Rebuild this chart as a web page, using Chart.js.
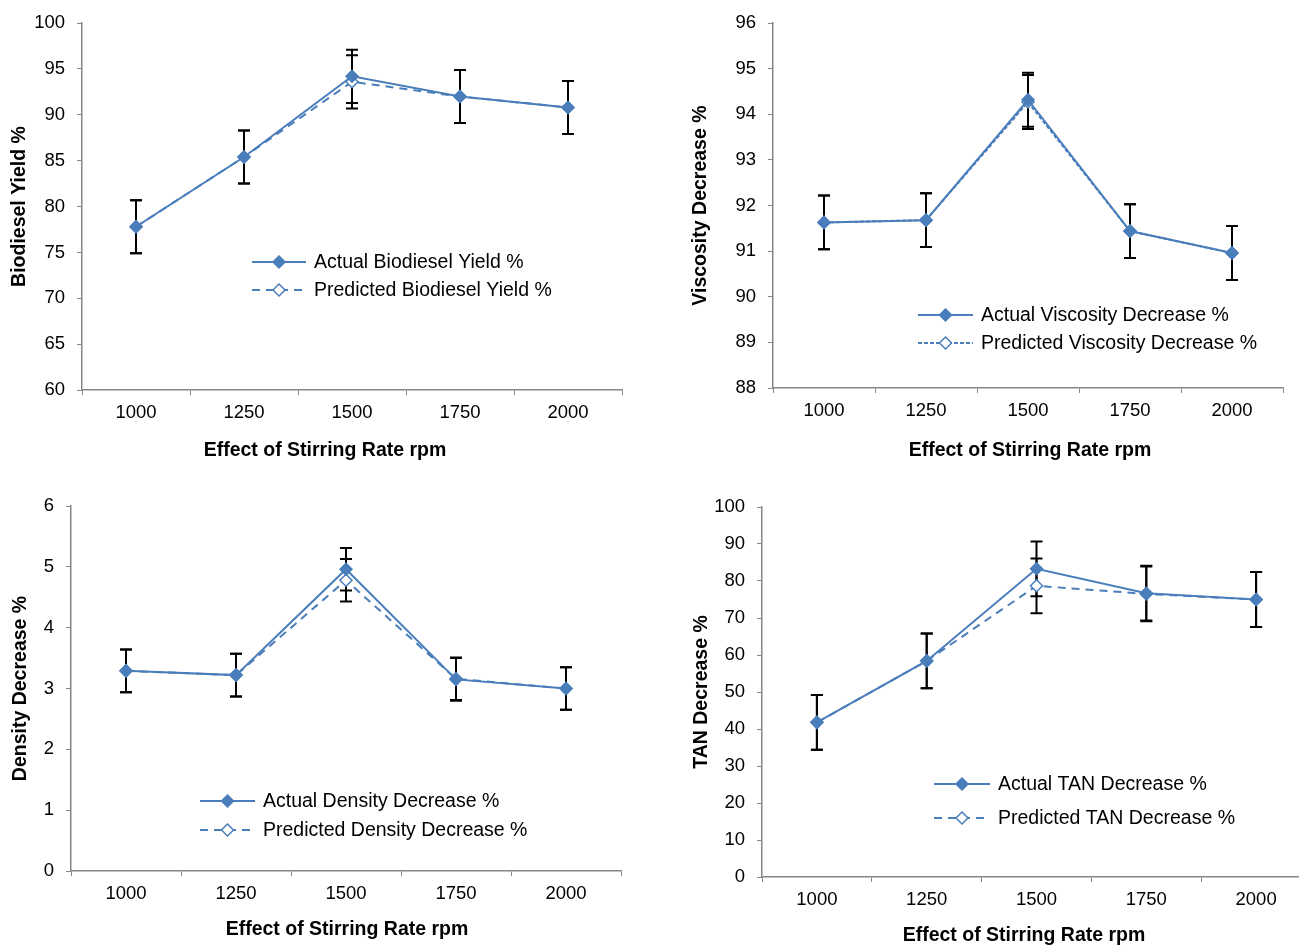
<!DOCTYPE html>
<html>
<head>
<meta charset="utf-8">
<script src="https://cdn.jsdelivr.net/npm/chart.js@4.4.1/dist/chart.umd.min.js"></script>
<style>
  html, body { margin: 0; padding: 0; background: #fff; }
  body { width: 1299px; height: 946px; position: relative; overflow: hidden; }
  canvas { position: absolute; }
</style>
</head>
<body>
<canvas id="yieldChart" width="650" height="470" style="left:0;top:0"></canvas>
<canvas id="viscChart" width="619" height="470" style="left:680px;top:0"></canvas>
<canvas id="densChart" width="650" height="466" style="left:0;top:480px"></canvas>
<canvas id="tanChart" width="640" height="466" style="left:680px;top:480px"></canvas>
<script>
const rpm = ['1000', '1250', '1500', '1750', '2000'];

const yieldActual = [77.8, 85.4, 94.2, 92.0, 90.8];
const yieldPred = [77.8, 85.4, 93.6, 92.0, 90.8];
const yieldErr = 2.9;

const viscActual = [91.63, 91.68, 94.32, 91.44, 90.96];
const viscPred = [91.63, 91.68, 94.27, 91.44, 90.96];
const viscErr = 0.59;

const densActual = [3.29, 3.22, 4.96, 3.15, 3.0];
const densPred = [3.29, 3.22, 4.78, 3.16, 3.0];
const densErr = 0.35;

const tanActual = [41.8, 58.4, 83.3, 76.7, 75.0];
const tanPred = [41.8, 58.4, 78.7, 76.5, 75.0];
const tanErr = 7.4;

const BLUE = '#4a7ebb';
const AXIS = '#868686';
const FONT = "'Liberation Sans', Arial, sans-serif";

function diamond(ctx, x, y, r, fill, stroke) {
  ctx.beginPath();
  ctx.moveTo(x, y - r);
  ctx.lineTo(x + r, y);
  ctx.lineTo(x, y + r);
  ctx.lineTo(x - r, y);
  ctx.closePath();
  ctx.fillStyle = fill;
  ctx.fill();
  ctx.lineWidth = 1.5;
  ctx.strokeStyle = stroke;
  ctx.stroke();
}

// error bars behind the markers, legend and x title on top
const extras = {
  id: 'extras',
  beforeDatasetsDraw(chart, args, opts) {
    const ctx = chart.ctx, ys = chart.scales.y;
    ctx.save();
    ctx.strokeStyle = '#000';
    ctx.lineWidth = 2;
    chart.data.datasets.forEach((ds, di) => {
      const meta = chart.getDatasetMeta(di);
      ds.data.forEach((v, i) => {
        const x = meta.data[i].x;
        const top = ys.getPixelForValue(v + opts.err);
        const bot = ys.getPixelForValue(v - opts.err);
        ctx.beginPath();
        ctx.moveTo(x, top); ctx.lineTo(x, bot);
        ctx.moveTo(x - 6, top); ctx.lineTo(x + 6, top);
        ctx.moveTo(x - 6, bot); ctx.lineTo(x + 6, bot);
        ctx.stroke();
      });
    });
    ctx.restore();
  },
  afterDraw(chart, args, opts) {
    const ctx = chart.ctx;
    ctx.save();
    const lg = opts.legend;
    chart.data.datasets.forEach((ds, i) => {
      const y = lg.y + i * lg.gap;
      ctx.strokeStyle = BLUE;
      ctx.lineWidth = 2;
      ctx.setLineDash(ds.borderDash || []);
      ctx.beginPath();
      ctx.moveTo(lg.x, y);
      ctx.lineTo(lg.x + lg.len, y);
      ctx.stroke();
      ctx.setLineDash([]);
      diamond(ctx, lg.x + lg.len / 2, y, 6, ds.pointBackgroundColor, BLUE);
      ctx.fillStyle = '#000';
      ctx.font = '19.5px ' + FONT;
      ctx.textBaseline = 'middle';
      ctx.textAlign = 'left';
      ctx.fillText(ds.label, lg.x + lg.len + 8, y + 1);
    });
    const t = opts.xTitle;
    ctx.font = 'bold 19.5px ' + FONT;
    ctx.fillStyle = '#000';
    ctx.textAlign = 'center';
    ctx.textBaseline = 'middle';
    ctx.fillText(t.text, t.x, t.y);
    ctx.restore();
  }
};

function makePanel(id, p) {
  return new Chart(document.getElementById(id), {
    type: 'line',
    data: {
      labels: rpm,
      datasets: [{
        label: p.names[0],
        data: p.actual,
        borderColor: BLUE,
        borderWidth: 2,
        pointStyle: 'rectRot',
        pointRadius: 6,
        pointBackgroundColor: BLUE,
        pointBorderColor: BLUE,
        pointBorderWidth: 1.5,
        tension: 0
      }, {
        label: p.names[1],
        data: p.pred,
        borderColor: BLUE,
        borderWidth: 2,
        borderDash: p.dash,
        pointStyle: 'rectRot',
        pointRadius: 6,
        pointBackgroundColor: '#fff',
        pointBorderColor: BLUE,
        pointBorderWidth: 1.5,
        tension: 0
      }]
    },
    options: {
      responsive: false,
      animation: false,
      events: [],
      layout: { padding: p.pad },
      plugins: {
        legend: { display: false },
        tooltip: { enabled: false },
        extras: { err: p.err, legend: p.legend, xTitle: p.xTitle }
      },
      scales: {
        x: {
          offset: true,
          grid: { offset: true, drawOnChartArea: false, tickLength: 5, color: AXIS },
          border: { color: AXIS, width: 1.5 },
          ticks: { color: '#000', font: { family: FONT, size: 18.5 }, padding: 7, maxRotation: 0, autoSkip: false },
          afterFit: s => { s.height = p.xh; }
        },
        y: {
          min: p.min, max: p.max,
          grid: { drawOnChartArea: false, tickLength: 5, color: AXIS },
          border: { color: AXIS, width: 1.5 },
          ticks: { stepSize: p.step, color: '#000', font: { family: FONT, size: 18.5 }, padding: 12 },
          title: { display: true, text: p.yTitle, color: '#000', font: { family: FONT, size: 19.5, weight: 'bold' }, padding: { top: p.ytPad, bottom: 0 } },
          afterFit: s => { s.width = p.yw; }
        }
      }
    },
    plugins: [extras]
  });
}

makePanel('yieldChart', {
  actual: yieldActual, pred: yieldPred, err: yieldErr,
  names: ['Actual Biodiesel Yield %', 'Predicted Biodiesel Yield %'],
  dash: [8, 6], min: 60, max: 100, step: 5,
  yTitle: 'Biodiesel Yield %', ytPad: 8,
  pad: { left: 0, top: 22, right: 28, bottom: 0 }, yw: 82, xh: 80,
  legend: { x: 252, y: 262, gap: 28, len: 54 },
  xTitle: { text: 'Effect of Stirring Rate rpm', x: 325, y: 451 }
});

makePanel('viscChart', {
  actual: viscActual, pred: viscPred, err: viscErr,
  names: ['Actual Viscosity Decrease %', 'Predicted Viscosity Decrease %'],
  dash: [4, 2], min: 88, max: 96, step: 1,
  yTitle: 'Viscosity Decrease %', ytPad: 9,
  pad: { left: 0, top: 22, right: 16, bottom: 0 }, yw: 93, xh: 82,
  legend: { x: 238, y: 315, gap: 28, len: 55 },
  xTitle: { text: 'Effect of Stirring Rate rpm', x: 350, y: 451 }
});

makePanel('densChart', {
  actual: densActual, pred: densPred, err: densErr,
  names: ['Actual Density Decrease %', 'Predicted Density Decrease %'],
  dash: [8, 6], min: 0, max: 6, step: 1,
  yTitle: 'Density Decrease %', ytPad: 9,
  pad: { left: 0, top: 26, right: 29, bottom: 0 }, yw: 71, xh: 75,
  legend: { x: 200, y: 321, gap: 29, len: 55 },
  xTitle: { text: 'Effect of Stirring Rate rpm', x: 347, y: 450 }
});

makePanel('tanChart', {
  actual: tanActual, pred: tanPred, err: tanErr,
  names: ['Actual TAN Decrease %', 'Predicted TAN Decrease %'],
  dash: [8, 6], min: 0, max: 100, step: 10,
  yTitle: 'TAN Decrease %', ytPad: 10,
  pad: { left: 0, top: 27, right: 9, bottom: 0 }, yw: 82, xh: 69,
  legend: { x: 254, y: 304, gap: 34, len: 56 },
  xTitle: { text: 'Effect of Stirring Rate rpm', x: 344, y: 456 }
});
</script>
</body>
</html>
